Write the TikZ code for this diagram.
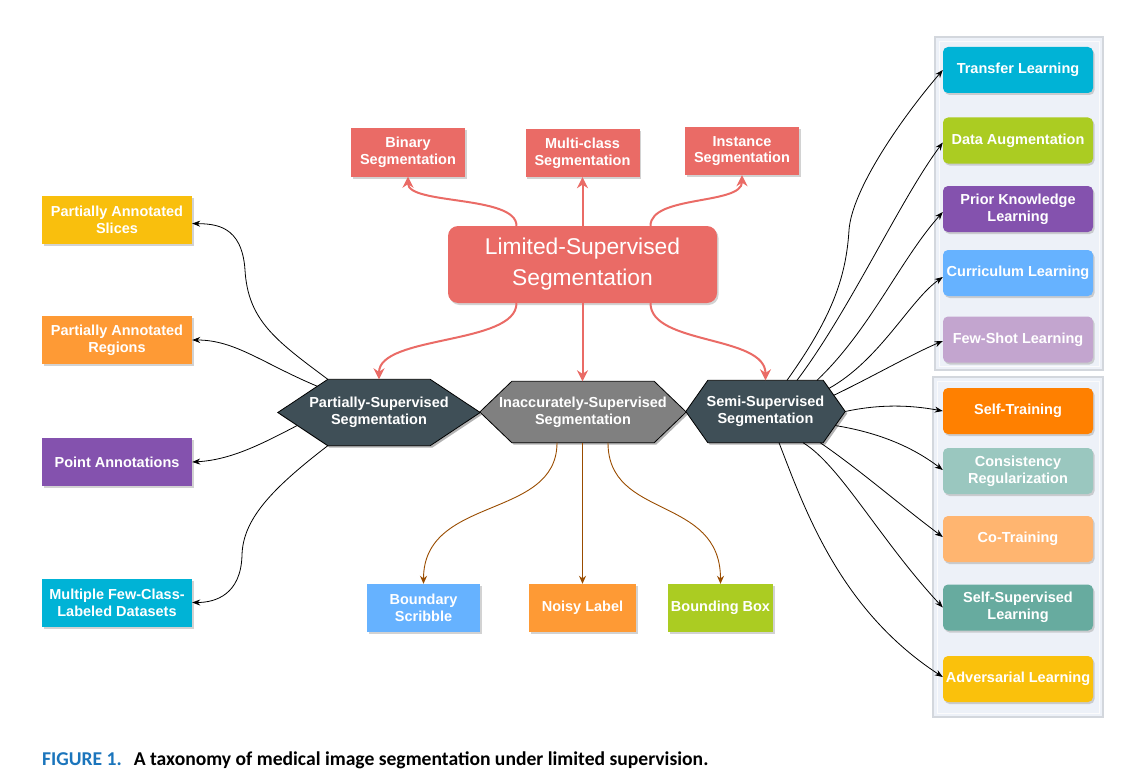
\documentclass[tikz,border=0pt]{standalone}
\usepackage{fontspec}
\setmainfont{Liberation Sans}
\newfontfamily\capfont{Carlito}
\usetikzlibrary{arrows.meta,shadows,calc}
\pgfdeclarelayer{background}
\pgfsetlayers{background,main}
\definecolor{lsred}{HTML}{EA6B66}
\definecolor{hexdark}{HTML}{3F4F57}
\definecolor{hexgrey}{HTML}{808080}
\definecolor{brn}{HTML}{994C00}
\definecolor{cyellow}{HTML}{F9BF0D}
\definecolor{corange}{HTML}{FE9A35}
\definecolor{cpurple}{HTML}{8452AE}
\definecolor{ccyan}{HTML}{00B3D6}
\definecolor{clblue}{HTML}{66B2FF}
\definecolor{cgreen}{HTML}{ABCC22}
\definecolor{clpurple}{HTML}{C3A5CF}
\definecolor{cselforange}{HTML}{FF8000}
\definecolor{cconsis}{HTML}{9AC7BF}
\definecolor{ccotrain}{HTML}{FFB570}
\definecolor{cselfsup}{HTML}{67AB9F}
\definecolor{cadv}{HTML}{FAC10C}
\definecolor{contfill}{HTML}{EDF1F8}
\definecolor{contline}{HTML}{D3D7DD}
\definecolor{capblue}{HTML}{1B75BC}
\newcommand\lblfont{\fontsize{14.5}{16.7}\selectfont\bfseries}
\begin{document}
\begin{tikzpicture}[x=1pt,y=-1pt,
  box/.style={minimum width=150pt, minimum height=48pt, inner sep=1pt, align=center,
    text=white, font=\lblfont,
    drop shadow={shadow xshift=1.5pt,shadow yshift=-2pt,fill=black!35,opacity=0.5}},
  rbox/.style={box, minimum height=46pt, rounded corners=5pt},
  redbox/.style={box, fill=lsred, minimum width=114pt},
  hexnode/.style={inner sep=0pt, align=center, text=white, font=\lblfont},
  redarr/.style={draw=lsred, line width=2pt, -{Stealth[length=11pt,width=11pt]}},
  brnarr/.style={draw=brn, line width=0.9pt, -{Stealth[length=8pt,width=7pt]}},
  blkarr/.style={draw=black, line width=0.8pt, -{Stealth[length=8pt,width=6pt]}},
  container/.style={fill=contfill, draw=contline, line width=2.5pt}
]
\useasboundingbox (0,0) rectangle (1143,781);

% containers
\draw[container] (935,37) rectangle (1103,370);
\draw[container] (933,377) rectangle (1103,717);
\draw[white!90!contline, line width=0.6pt] (939,41) rectangle (1099,366);
\draw[white!90!contline, line width=0.6pt] (937,381) rectangle (1099,713);

% central node
\node[rbox, fill=lsred, minimum width=269pt, minimum height=77pt, rounded corners=10pt,
  font=\fontsize{22.8}{31}\selectfont] (LSS) at (582.5,264.5) {Limited-Supervised\\Segmentation};

% top boxes
\node[redbox] (bin) at (408,152.5) {Binary\\Segmentation};
\node[redbox] (mc) at (582.5,153) {Multi-class\\Segmentation};
\node[redbox] (inst) at (742,151) {Instance\\Segmentation};

% hexagon nodes
\node[hexnode, minimum width=202pt, minimum height=66pt] (P) at (379,412.5) {Partially-Supervised\\Segmentation};
\node[hexnode, minimum width=206pt, minimum height=61pt] (I) at (583,412) {Inaccurately-Supervised\\Segmentation};
\node[hexnode, minimum width=159pt, minimum height=62pt] (S) at (765.5,411.5) {Semi-Supervised\\Segmentation};

\begin{pgfonlayer}{background}
\foreach \n/\d/\c in {P/50/hexdark, I/32/hexgrey, S/22/hexdark}{
  \fill[black!30, transform canvas={shift={(2pt,-2pt)}}]
    (\n.west) -- ([xshift=\d pt]\n.north west) -- ([xshift=-\d pt]\n.north east) -- (\n.east)
    -- ([xshift=-\d pt]\n.south east) -- ([xshift=\d pt]\n.south west) -- cycle;
  \draw[fill=\c, line width=0.8pt]
    (\n.west) -- ([xshift=\d pt]\n.north west) -- ([xshift=-\d pt]\n.north east) -- (\n.east)
    -- ([xshift=-\d pt]\n.south east) -- ([xshift=\d pt]\n.south west) -- cycle;
}
\end{pgfonlayer}

% left boxes
\node[box, fill=cyellow] (sl) at (117,219.5) {Partially Annotated\\Slices};
\node[box, fill=corange] (rg) at (117,340) {Partially Annotated\\Regions};
\node[box, fill=cpurple] (pa) at (117,462) {Point Annotations};
\node[box, fill=ccyan] (mf) at (117,602.5) {Multiple Few-Class-\\Labeled Datasets};

% bottom boxes
\node[box, fill=clblue, minimum width=113pt] (bs) at (423.5,608) {Boundary\\Scribble};
\node[box, fill=corange, minimum width=107pt] (nl) at (582.5,608) {Noisy Label};
\node[box, fill=cgreen, minimum width=105pt] (bb) at (720.5,608) {Bounding Box};

% right boxes
\node[rbox, fill=ccyan] (tl) at (1018,70) {Transfer Learning};
\node[rbox, fill=cgreen] (da) at (1018,140.5) {Data Augmentation};
\node[rbox, fill=cpurple] (pk) at (1018,209) {Prior Knowledge\\Learning};
\node[rbox, fill=clblue] (cl) at (1018,273) {Curriculum Learning};
\node[rbox, fill=clpurple] (fs) at (1018,339.5) {Few-Shot Learning};
\node[rbox, fill=cselforange] (st) at (1018,411) {Self-Training};
\node[rbox, fill=cconsis] (cr) at (1018,471) {Consistency\\Regularization};
\node[rbox, fill=ccotrain] (ct) at (1018,539) {Co-Training};
\node[rbox, fill=cselfsup] (ss) at (1018,607.5) {Self-Supervised\\Learning};
\node[rbox, fill=cadv] (al) at (1018,679) {Adversarial Learning};

% red arrows
\draw[redarr] ([xshift=-66pt]LSS.north) .. controls (516.5,195) and (408,205) .. (bin.south);
\draw[redarr] (LSS.north) -- (mc.south);
\draw[redarr] ([xshift=68pt]LSS.north) .. controls (650.5,195) and (742,205) .. (inst.south);
\draw[redarr] ([xshift=-66pt]LSS.south) .. controls (516.5,345) and (379,335) .. (P.north);
\draw[redarr] (LSS.south) -- (LSS.south |- I.north);
\draw[redarr] ([xshift=68pt]LSS.south) .. controls (650.5,345) and (765.5,335) .. (S.north);

% brown arrows
\draw[brnarr] ([xshift=-26pt]I.south) .. controls (557,520) and (423.5,495) .. (bs.north);
\draw[brnarr] (nl.north |- I.south) -- (nl.north);
\draw[brnarr] ([xshift=25pt]I.south) .. controls (608,520) and (720.5,495) .. (bb.north);

% left arrows
\draw[blkarr] ([xshift=50pt]P.north west) .. controls (275,340) and (248,320) .. (245,270)
  .. controls (242,225) and (215,224) .. ([yshift=-4pt]sl.east);
\draw[blkarr] ($(P.west)!0.79!([xshift=50pt]P.north west)$) .. controls (262,363) and (235,340) .. (rg.east);
\draw[blkarr] ($(P.west)!0.39!([xshift=50pt]P.south west)$) .. controls (260,445) and (230,460) .. (pa.east);
\draw[blkarr] ([xshift=50pt]P.south west) .. controls (270,490) and (243,520) .. (242,555)
  .. controls (241,595) and (215,602.5) .. (mf.east);

% right arrows
\draw[blkarr] ([xshift=21.5pt]S.north) .. controls (830,320) and (846,280) .. (849,230)
  .. controls (852,190) and (900,120) .. (tl.west);
\draw[blkarr] ([xshift=31.5pt]S.north) .. controls (850,310) and (900,200) .. ([yshift=-2pt]da.west);
\draw[blkarr] ([xshift=51.5pt]S.north) .. controls (870,330) and (900,260) .. ([yshift=-3pt]pk.west);
\draw[blkarr] ($([xshift=-22pt]S.north east)!0.26!(S.east)$) .. controls (880,360) and (910,300) .. ([yshift=-4pt]cl.west);
\draw[blkarr] ($([xshift=-22pt]S.north east)!0.48!(S.east)$) .. controls (870,378) and (910,355) .. ([yshift=-1.5pt]fs.west);
\draw[blkarr] (S.east) .. controls (880,404) and (910,405) .. (st.west);
\draw[blkarr] ($(S.east)!0.45!([xshift=-22pt]S.south east)$) .. controls (875,432) and (910,445) .. ([yshift=1pt]cr.west);
\draw[blkarr] ([xshift=-25pt]S.south east) .. controls (860,470) and (900,505) .. ([yshift=2pt]ct.west);
\draw[blkarr] ([xshift=37.5pt]S.south) .. controls (840,465) and (880,540) .. (ss.west);
\draw[blkarr] ([xshift=13.5pt]S.south) .. controls (805,510) and (840,610) .. ([yshift=2pt]al.west);

% caption
\node[anchor=base west, inner sep=0pt, font=\capfont\bfseries\fontsize{19.6}{22}\selectfont] (cap) at (42,765)
  {\textcolor{capblue}{FIGURE 1.}\hspace{6pt} A taxonomy of medical image segmentation under limited supervision.};
\end{tikzpicture}
\end{document}
